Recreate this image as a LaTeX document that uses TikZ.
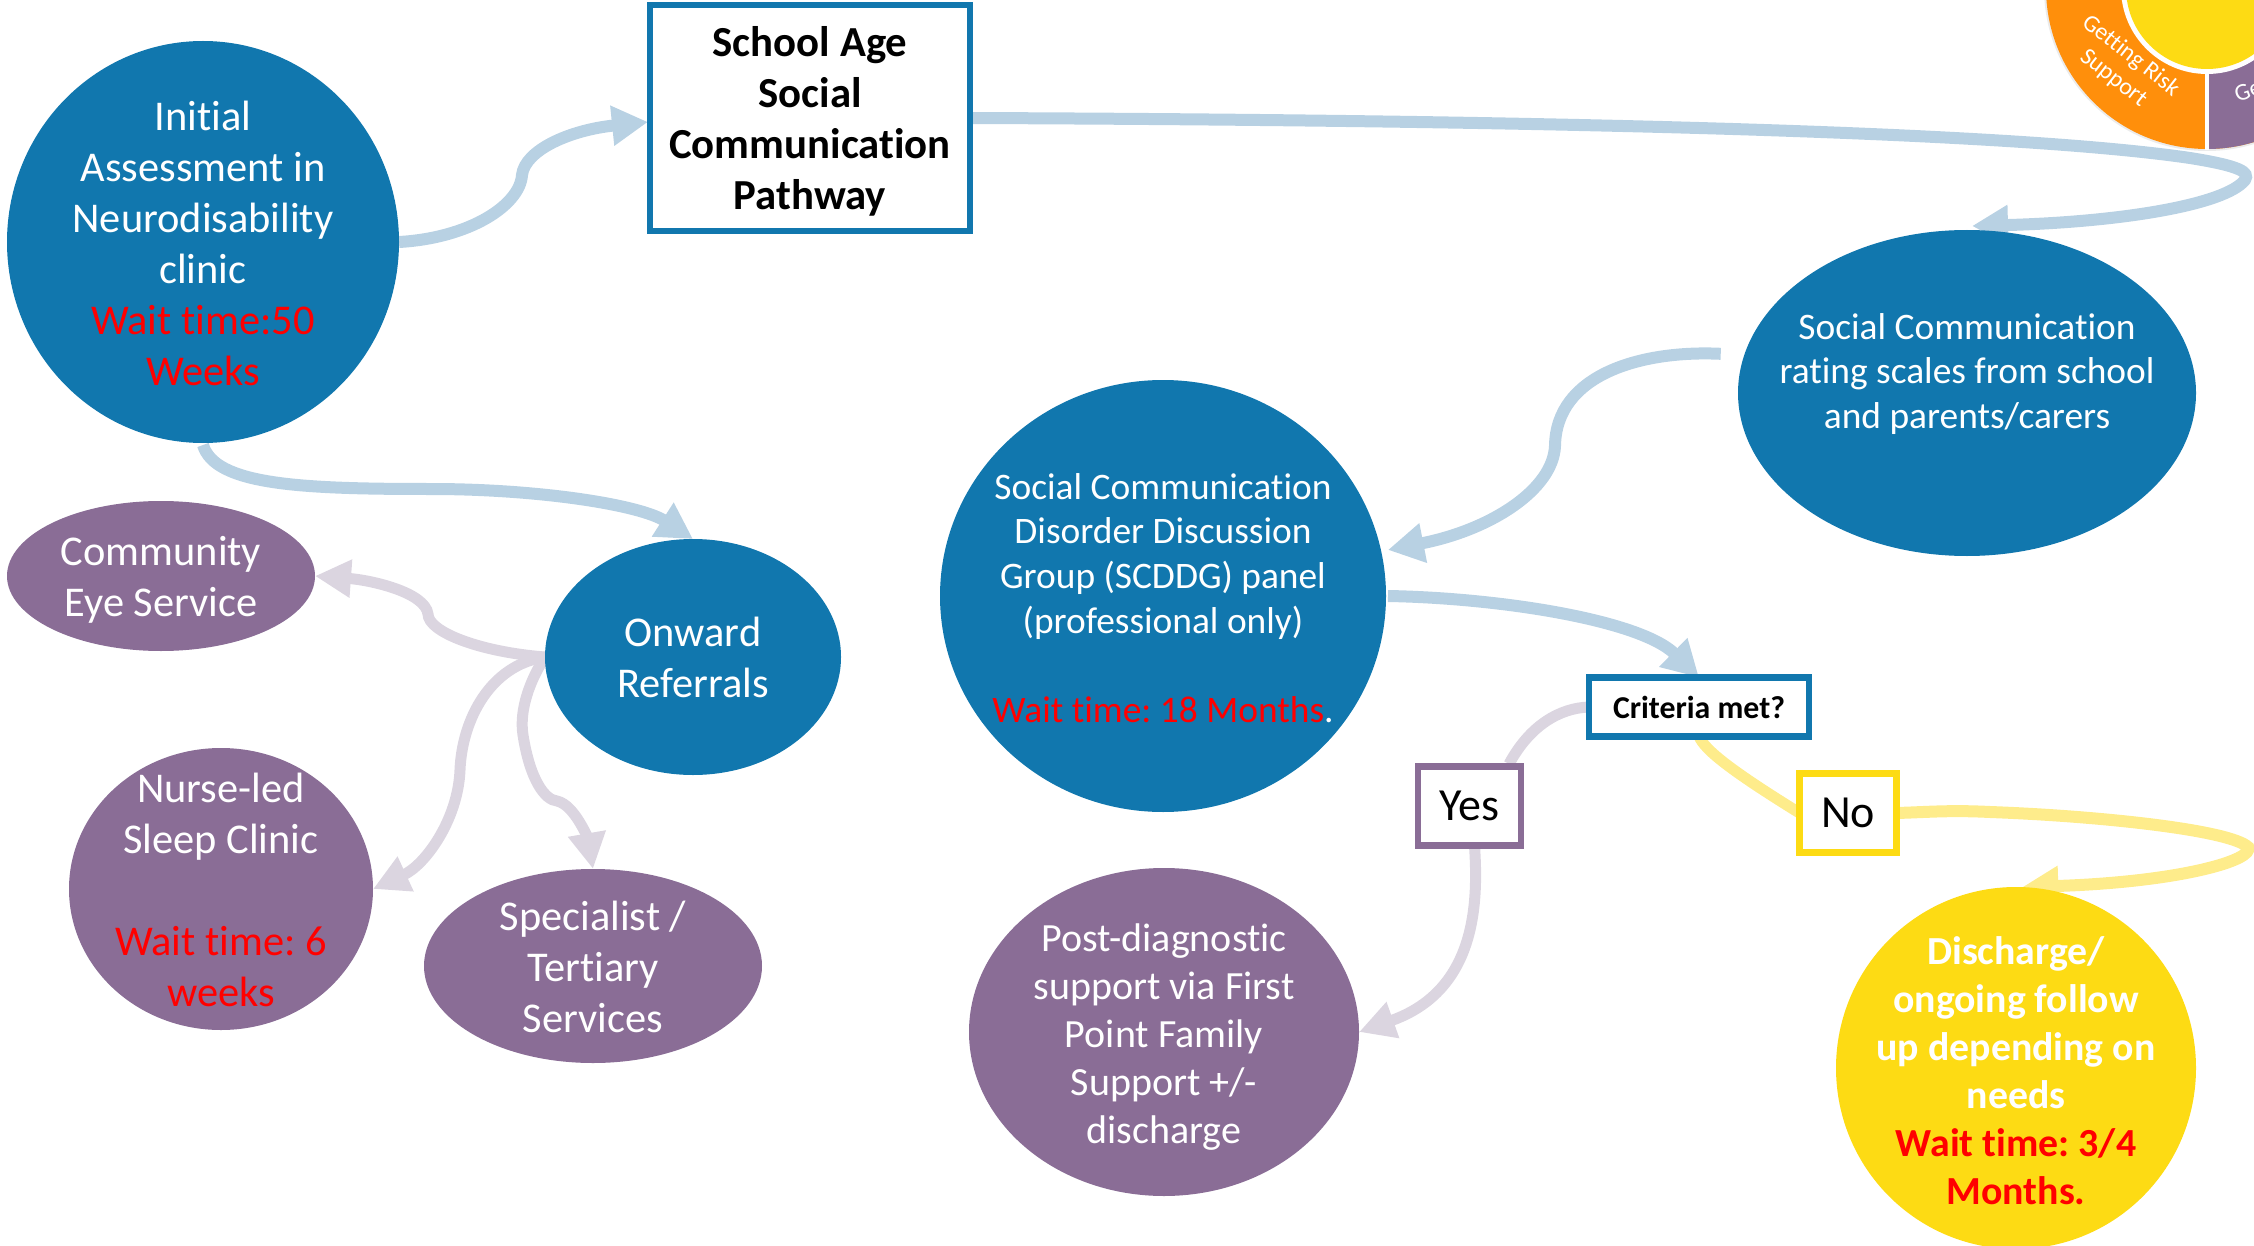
\documentclass[tikz,border=0pt]{standalone}
\usepackage{fontspec}
\setmainfont[Ligatures=NoCommon]{Carlito}
\frenchspacing
\usetikzlibrary{shapes.geometric,arrows.meta,backgrounds,calc}
\definecolor{cblue}{HTML}{1177AE}
\definecolor{cpurple}{HTML}{8A6D96}
\definecolor{cyellow}{HTML}{FDDB14}
\definecolor{corange}{HTML}{FF8F0B}
\definecolor{lblue}{HTML}{B8D1E3}
\definecolor{lpurple}{HTML}{DBD5E0}
\definecolor{lyellow}{HTML}{FEEC8B}
\definecolor{wred}{HTML}{FF0000}
\newcommand{\wt}[1]{\textcolor{wred}{#1}}
\tikzset{
  x=.5pt,y=-.5pt,
  ell/.style={ellipse,inner sep=0pt,outer sep=0pt,draw=none},
  fblue/.style={ell,fill=cblue},
  fpurple/.style={ell,fill=cpurple},
  fyellow/.style={ell,fill=cyellow},
  txt/.style={text=white,align=center,inner sep=0pt},
  tlarge/.style={txt,font=\fontsize{21.2}{25.5}\selectfont\frenchspacing},
  tmed/.style={txt,font=\fontsize{18.7}{22.3}\selectfont\frenchspacing},
  tpost/.style={txt,font=\fontsize{20}{24}\selectfont\frenchspacing},
  tbold/.style={txt,font=\fontsize{19.9}{24}\selectfont\bfseries\frenchspacing},
  boxs/.style={rectangle,fill=white,line width=3.2pt,inner sep=0pt,outer sep=0pt,text=black,align=center},
  conn/.style={line width=5.5pt,-{Triangle[length=18pt,width=18pt]}},
  connb/.style={line width=6pt,-{Triangle[length=18pt,width=19pt]}},
  plain/.style={line width=5.5pt},
}
\begin{document}
\begin{tikzpicture}
\useasboundingbox (0,0) rectangle (2254,1246);
\clip (0,0) rectangle (2254,1246);
% wheel
\fill[black!8] (2207,-12) circle[radius=81.5pt];
\fill[corange] (2207,-12) circle[radius=80.5pt];
\fill[cpurple] (2207,-12) -- (2207,149) arc[start angle=270,end angle=360,radius=80.5pt] -- cycle;
\fill[white] (2207,-12) circle[radius=43pt];
\fill[cyellow] (2207,-12) circle[radius=40.5pt];
\draw[white,line width=2pt] (2207,70) -- (2207,150);
\node[txt,font=\fontsize{12}{14}\selectfont,rotate=-38] (risk) at (2122,67) {Getting Risk\\Support};
\node[txt,font=\fontsize{12}{14}\selectfont,rotate=20,anchor=center] (ge) at (2248,91) {Ge};
% nodes
\node[fblue,minimum width=196pt,minimum height=201pt] (init) at (203,242) {};
\node[tlarge] (initt) at (203,243) {Initial\\Assessment in\\Neurodisability\\clinic\\\wt{Wait time:50}\\\wt{Weeks}};
\node[boxs,draw=cblue,minimum width=160pt,minimum height=113pt,font=\fontsize{21.4}{25.5}\selectfont\bfseries] (school) at (810,118) {\rule{0pt}{18pt}School Age\\Social\\Communication\\Pathway};
\node[fblue,minimum width=229pt,minimum height=163pt] (rate) at (1967,393) {};
\node[tmed] (ratet) at (1967,374) {Social Communication\\rating scales from school\\and parents/carers};
\node[fblue,minimum width=223pt,minimum height=216pt] (scd) at (1163,596) {};
\node[tmed] (scdt) at (1163,598) {Social Communication\\Disorder Discussion\\Group (SCDDG) panel\\(professional only)\\~\\\wt{Wait time: 18 Months}.};
\node[fblue,minimum width=148pt,minimum height=118pt] (onward) at (693,657) {};
\node[tlarge] (onwardt) at (693,657) {Onward\\Referrals};
\node[fpurple,minimum width=154pt,minimum height=75pt] (eye) at (161,576) {};
\node[tlarge] (eyet) at (161,580) {Community\\Eye Service};
\node[fpurple,minimum width=152pt,minimum height=141pt] (nurse) at (221,889) {};
\node[tlarge] (nurset) at (221,890) {Nurse-led\\Sleep Clinic\\~\\\wt{Wait time: 6}\\\wt{weeks}};
\node[fpurple,minimum width=169pt,minimum height=97pt] (spec) at (593,966) {};
\node[tlarge] (spect) at (593,967) {Specialist /\\Tertiary\\Services};
\node[fpurple,minimum width=195pt,minimum height=164pt] (post) at (1164,1032) {};
\node[tpost] (postt) at (1164,1037) {Post-diagnostic\\support via First\\Point Family\\Support +/-\\discharge};
\node[fyellow,minimum width=180pt,minimum height=181pt] (disch) at (2016,1068) {};
\node[tbold] (discht) at (2016,1071) {Discharge/\\ongoing follow\\up depending on\\needs\\\wt{Wait time: 3/4}\\\wt{Months.}};
\node[boxs,draw=cblue,minimum width=110pt,minimum height=29.5pt,font=\fontsize{15.9}{18}\selectfont\bfseries] (crit) at (1699,707) {Criteria met?};
\node[boxs,draw=cpurple,minimum width=51.5pt,minimum height=39.5pt,font=\fontsize{23}{25}\selectfont] (yes) at (1469.5,806) {Yes};
\node[boxs,draw=cyellow,minimum width=48.5pt,minimum height=39.5pt,font=\fontsize{23}{25}\selectfont] (no) at (1848,813) {No};
% connectors
\begin{pgfonlayer}{background}
\draw[connb,lblue] (init.east) .. controls (470,238) and (520,205) .. (522,175) .. controls (525,150) and (570,130) .. ([shift={(-2,4)}]school.west);
\draw[connb,lblue] (school.east) .. controls (1500,120) and (2000,130) .. (2190,158) .. controls (2240,166) and (2250,172) .. (2245,180) .. controls (2225,205) and (2120,222) .. (1972,226);
\draw[connb,lblue] ([shift={(-24,0)}]rate.170) .. controls (1640,350) and (1556,375) .. (1555,446) .. controls (1553,490) and (1490,530) .. ([shift={(8,4)}]scd.13);
\draw[connb,lblue] ([shift={(0,2)}]init.south) .. controls (215,485) and (300,489) .. (431,489) .. controls (540,489) and (640,505) .. (onward.north);
\draw[connb,lblue] ([shift={(2,0)}]scd.east) .. controls (1500,598) and (1640,620) .. (crit.north);
\draw[plain,lpurple] (crit.west) .. controls (1560,708) and (1530,725) .. (1509,764);
\draw[conn,lpurple] ([shift={(5,0)}]yes.south) .. controls (1478,900) and (1478,990) .. (post.east);
\draw[plain,lyellow] (crit.south) .. controls (1705,750) and (1730,770) .. (no.west);
\draw[connb,lyellow] (no.east) .. controls (1930,812) and (1950,810) .. (1990,812) .. controls (2100,816) and (2230,830) .. (2248,847) .. controls (2255,860) and (2180,882) .. (disch.88);
\draw[conn,lpurple] (onward.west) .. controls (480,652) and (428,632) .. (428,614) .. controls (425,592) and (370,580) .. (eye.east);
\draw[conn,lpurple] (onward.west) .. controls (490,665) and (462,720) .. (460,770) .. controls (458,820) and (425,865) .. (nurse.east);
\draw[conn,lpurple] (onward.west) .. controls (530,680) and (519,710) .. (523,735) .. controls (530,780) and (545,800) .. (557,801) .. controls (575,805) and (588,840) .. (spec.north);
\end{pgfonlayer}
\end{tikzpicture}
\end{document}
